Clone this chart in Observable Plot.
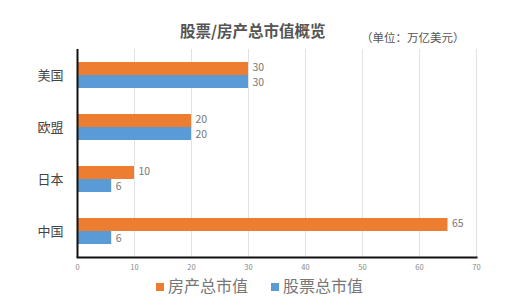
<!DOCTYPE html>
<html><head><meta charset="utf-8">
<script src="https://cdn.jsdelivr.net/npm/d3@7"></script>
<script src="https://cdn.jsdelivr.net/npm/@observablehq/plot@0.6"></script>
<style>
body{margin:0;background:#fff;font-family:"Noto Sans CJK SC","Noto Sans",sans-serif;}
#wrap{width:512px;height:305px;position:relative;overflow:hidden;}
#title{height:44px;position:relative;}
#t1{position:absolute;left:180px;top:19px;font-size:15.5px;line-height:22px;font-weight:bold;color:#555;white-space:nowrap;}
#t2{position:absolute;left:361px;top:29px;font-size:11.5px;line-height:16px;color:#555;white-space:nowrap;}
#legend{position:relative;height:30px;font-size:16px;line-height:20px;color:#777;}
#legend .it{position:absolute;top:0;white-space:nowrap;}
#legend span.sw{display:inline-block;width:8px;height:8px;margin-right:4px;vertical-align:middle;position:relative;top:-1px;}
svg{display:block;}
</style></head>
<body><div id="wrap">
<div id="title"><div id="t1">股票/房产总市值概览</div><div id="t2">（单位：万亿美元）</div></div>
<div id="chart"></div>
<div id="legend"></div>
</div>
<script>
const countries = ["美国", "欧盟", "日本", "中国"];
const series = ["房产总市值", "股票总市值"];
const realEstate = [30, 20, 10, 65];
const stocks = [30, 20, 6, 6];
const xTicks = [0, 10, 20, 30, 40, 50, 60, 70];
const colors = ["#ED7D31", "#5B9BD5"];

const re = countries.map((c, i) => ({country: c, value: realEstate[i]}));
const st = countries.map((c, i) => ({country: c, value: stocks[i]}));
const half = 13;

const plot = Plot.plot({
  width: 512,
  height: 231,
  marginLeft: 77,
  marginRight: 36,
  marginTop: 5,
  marginBottom: 18,
  style: {fontFamily: "'Noto Sans CJK SC', sans-serif", background: "#fff"},
  x: {domain: [0, 70], ticks: xTicks, tickSize: 0, label: null, grid: false},
  y: {domain: countries, paddingInner: 0.5, paddingOuter: 0.25, tickSize: 0, label: null},
  marks: [
    Plot.gridX(xTicks.slice(1), {stroke: "#e2e2e2", strokeOpacity: 1}),
    Plot.barX(re, {x: "value", y: "country", fill: colors[0], insetBottom: half}),
    Plot.barX(st, {x: "value", y: "country", fill: colors[1], insetTop: half}),
    Plot.text(re, {x: "value", y: "country", text: d => String(d.value), dx: 4, dy: -7.5, textAnchor: "start", fontSize: 10.5, fill: "#777"}),
    Plot.text(st, {x: "value", y: "country", text: d => String(d.value), dx: 4, dy: 7.5, textAnchor: "start", fontSize: 10.5, fill: "#777"}),
    Plot.axisX({ticks: xTicks, tickSize: 0, tickPadding: 7, fontSize: 7.5, fill: "#888", label: null}),
    Plot.axisY({tickSize: 0, tickPadding: 14, fontSize: 13, fill: "#444", label: null}),
    Plot.ruleX([0], {stroke: "#111", strokeWidth: 2}),
    Plot.frame({anchor: "bottom", stroke: "#111", strokeWidth: 2})
  ]
});
document.getElementById("chart").appendChild(plot);

const lg = document.getElementById("legend");
const lx = [156, 271];
series.forEach((s, i) => {
  const d = document.createElement("div");
  d.className = "it";
  d.style.left = lx[i] + "px";
  d.innerHTML = `<span class="sw" style="background:${colors[i]}"></span>${s}`;
  lg.appendChild(d);
});
</script>
</body></html>
